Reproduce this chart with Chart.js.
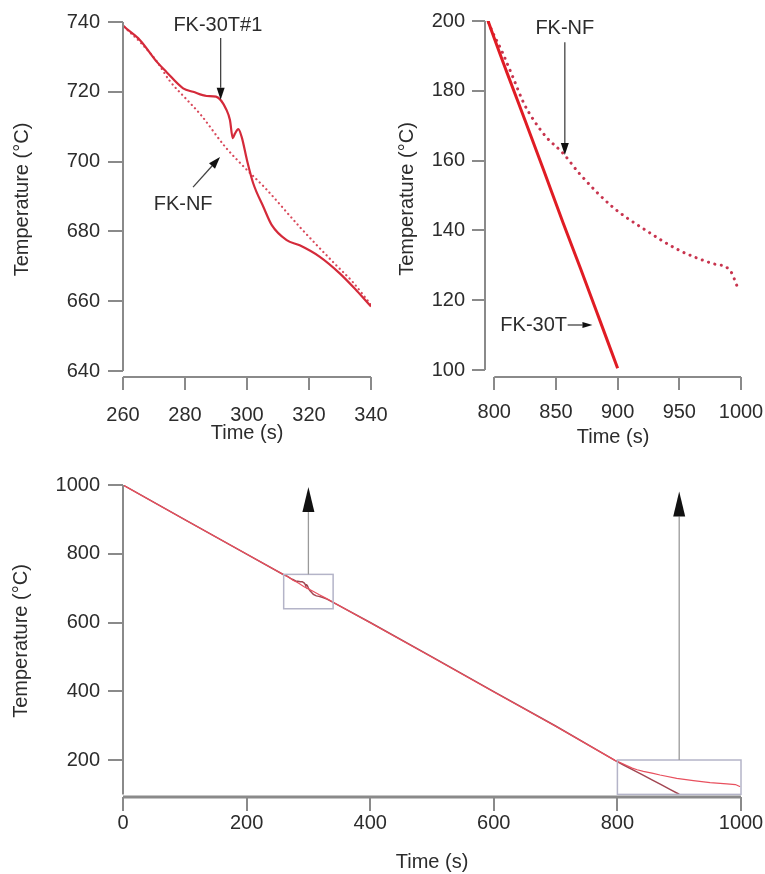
<!DOCTYPE html>
<html lang="en">
<head>
    <meta charset="UTF-8">
    <title>Cooling curves FK-30T / FK-NF</title>
    <script src="https://cdn.jsdelivr.net/npm/chart.js"></script>
    <style>
        body {
            margin: 0;
            background: #fff;
        }
        .wrap {
            position: relative;
            width: 765px;
            height: 874px;
        }
        canvas {
            position: absolute;
            left: 0;
            top: 0;
        }
    </style>
</head>
<body>
    <div class="wrap">
        <canvas id="chartFull" width="765" height="874"></canvas>
        <canvas id="chartZoomA" width="765" height="874"></canvas>
        <canvas id="chartZoomB" width="765" height="874"></canvas>
    </div>

    <script>
        // FK-NF (no filler) – dotted in the insets
        const nfTime = [0, 100, 200, 260, 266, 271, 275, 280, 285, 293, 299, 306, 317, 328, 334, 340,
                        400, 500, 600, 700, 796, 807, 815, 824, 832, 842, 856, 869, 896, 923, 950, 977, 991, 998];
        const nfTemp = [1000, 899, 799, 739, 733.8, 728.6, 723.2, 718.3, 713.5, 704.2, 698.5, 692.3, 681.3, 671, 665.6, 659,
                        599, 499, 398, 298, 199, 190.7, 184, 176.4, 171.6, 166.8, 162, 156.3, 146.7, 140, 134.3, 130.5, 128.6, 123];

        // FK-30T#1 – solid
        const ftTime = [0, 100, 200, 260, 265.5, 271, 274, 279.4, 282.6, 287, 290, 293.4, 294.5, 295.4, 296.1, 297.2, 298.3,
                        300, 302, 305.3, 308, 312.8, 317, 323.5, 330, 335.4, 340,
                        400, 500, 600, 700, 796, 810, 825, 840, 856, 870, 885, 900];
        const ftTemp = [1000, 899, 799, 739, 734.8, 728.5, 725.7, 721, 720, 718.8, 718.6, 714.8, 711.9, 706.7, 708, 709.3, 707,
                        700.4, 693.8, 687, 681.8, 677.5, 676, 672.7, 667.9, 663, 658.5,
                        600, 500, 399, 299, 199, 185.5, 171.5, 157.3, 142, 129, 114.8, 100.5];

        // tick labels
        const ticksA_x = [260, 280, 300, 320, 340];
        const ticksA_y = [640, 660, 680, 700, 720, 740];
        const ticksB_x = [800, 850, 900, 950, 1000];
        const ticksB_y = [100, 120, 140, 160, 180, 200];
        const ticksC_x = [0, 200, 400, 600, 800, 1000];
        const ticksC_y = [200, 400, 600, 800, 1000];

        const FONT = "'Liberation Sans', Arial, sans-serif";
        const TEXT = '#2c2c2c';
        const AXIS = '#8a8a8a';

        const pts = (xs, ys) => xs.map((x, i) => ({ x: x, y: ys[i] }));

        function fixSize(size, horizontal) {
            return function (scale) {
                if (horizontal) scale.height = size; else scale.width = size;
                scale.paddingLeft = 0;
                scale.paddingRight = 0;
                scale.paddingTop = 0;
                scale.paddingBottom = 0;
            };
        }
        function setTicks(values) {
            return function (scale) {
                scale.ticks = values.map(v => ({ value: v }));
            };
        }

        // axis lines, boxes, arrows and labels, all placed through the chart's scales
        const overlay = {
            id: 'overlay',
            afterDraw(chart, args, opts) {
                const { ctx, chartArea } = chart;
                const sx = chart.scales.x, sy = chart.scales.y;
                const px = v => sx.getPixelForValue(v);
                const py = v => sy.getPixelForValue(v);
                ctx.save();
                ctx.strokeStyle = AXIS;
                ctx.lineWidth = opts.axisWidth;
                ctx.beginPath();
                ctx.moveTo(chartArea.left, py(opts.yLine[0]));
                ctx.lineTo(chartArea.left, py(opts.yLine[1]));
                ctx.stroke();
                ctx.lineWidth = opts.xAxisWidth || opts.axisWidth;
                ctx.beginPath();
                ctx.moveTo(px(opts.xLine[0]), chartArea.bottom);
                ctx.lineTo(px(opts.xLine[1]), chartArea.bottom);
                ctx.stroke();

                (opts.boxes || []).forEach(b => {
                    ctx.strokeStyle = '#b4b4c8';
                    ctx.lineWidth = 1.5;
                    ctx.strokeRect(px(b[0]), py(b[3]), px(b[1]) - px(b[0]), py(b[2]) - py(b[3]));
                });

                (opts.arrows || []).forEach(a => {
                    const x1 = px(a.from[0]), y1 = py(a.from[1]);
                    const x2 = px(a.to[0]), y2 = py(a.to[1]);
                    const ang = Math.atan2(y2 - y1, x2 - x1);
                    const len = a.head[0], half = a.head[1] / 2;
                    const bx = x2 - len * Math.cos(ang), by = y2 - len * Math.sin(ang);
                    ctx.strokeStyle = a.color;
                    ctx.lineWidth = a.width;
                    ctx.beginPath();
                    ctx.moveTo(x1, y1);
                    ctx.lineTo(bx, by);
                    ctx.stroke();
                    ctx.fillStyle = '#111';
                    ctx.beginPath();
                    ctx.moveTo(x2, y2);
                    ctx.lineTo(bx + half * Math.sin(ang), by - half * Math.cos(ang));
                    ctx.lineTo(bx - half * Math.sin(ang), by + half * Math.cos(ang));
                    ctx.closePath();
                    ctx.fill();
                });

                (opts.labels || []).forEach(l => {
                    ctx.fillStyle = TEXT;
                    ctx.font = '20px ' + FONT;
                    ctx.textAlign = l.align || 'center';
                    ctx.textBaseline = 'middle';
                    ctx.fillText(l.text, px(l.at[0]), py(l.at[1]));
                });
                ctx.restore();
            }
        };

        function makeChart(id, cfg) {
            return new Chart(document.getElementById(id), {
                type: 'line',
                data: {
                    datasets: [
                        {
                            label: 'FK-30T#1',
                            data: pts(ftTime, ftTemp),
                            borderColor: cfg.ftColor,
                            borderWidth: cfg.ftWidth,
                            cubicInterpolationMode: cfg.smooth ? 'monotone' : 'default',
                            pointRadius: 0,
                            fill: false,
                            order: cfg.ftOrder
                        },
                        {
                            label: 'FK-NF',
                            data: pts(nfTime, nfTemp),
                            borderColor: cfg.nfColor,
                            borderWidth: cfg.nfWidth,
                            borderDash: cfg.nfDash,
                            borderCapStyle: 'round',
                            cubicInterpolationMode: cfg.smooth ? 'monotone' : 'default',
                            pointRadius: 0,
                            fill: false,
                            order: cfg.nfOrder
                        }
                    ]
                },
                options: {
                    responsive: false,
                    animation: false,
                    layout: { padding: cfg.padding },
                    plugins: {
                        legend: { display: false },
                        tooltip: { enabled: false },
                        overlay: cfg.overlay
                    },
                    scales: {
                        x: {
                            type: 'linear',
                            min: cfg.xRange[0],
                            max: cfg.xRange[1],
                            afterBuildTicks: setTicks(cfg.xTicks),
                            afterFit: fixSize(cfg.xHeight, true),
                            border: { display: false },
                            grid: { drawOnChartArea: false, color: AXIS, lineWidth: 2, tickLength: cfg.xTickLen },
                            ticks: { color: TEXT, font: { family: FONT, size: 20 }, padding: cfg.xPad, maxRotation: 0, autoSkip: false,
                                     callback: v => String(v) },
                            title: { display: true, text: 'Time (s)', color: TEXT, font: { family: FONT, size: 20 }, padding: 0 }
                        },
                        y: {
                            min: cfg.yRange[0],
                            max: cfg.yRange[1],
                            afterBuildTicks: setTicks(cfg.yTicks),
                            afterFit: fixSize(cfg.yWidth, false),
                            border: { display: false },
                            grid: { drawOnChartArea: false, color: AXIS, lineWidth: 2, tickLength: cfg.yTickLen },
                            ticks: { color: TEXT, font: { family: FONT, size: 20 }, padding: cfg.yPad, callback: v => String(v) },
                            title: { display: true, text: 'Temperature (°C)', color: TEXT, font: { family: FONT, size: 20 }, padding: { top: cfg.yTitlePad, bottom: 0 } }
                        }
                    }
                },
                plugins: [overlay]
            });
        }

        // top left: 260–340 s
        makeChart('chartZoomA', {
            padding: { left: 0, top: 22, right: 394, bottom: 429 },
            xRange: [260, 340], yRange: [638.28, 740],
            xTicks: ticksA_x, yTicks: ticksA_y,
            xHeight: 68, yWidth: 123, xTickLen: 13, yTickLen: 15, xPad: 13, yPad: 8, yTitlePad: 10,
            smooth: true,
            ftColor: '#d42a3a', ftWidth: 2.2, ftOrder: 1,
            nfColor: '#d94a5c', nfWidth: 2.2, nfDash: [0.1, 4.6], nfOrder: 2,
            overlay: {
                axisWidth: 2,
                xLine: [260, 340], yLine: [740, 640],
                arrows: [
                    { from: [291.5, 735.4], to: [291.5, 717.7], head: [12, 8], color: '#444', width: 1.3 },
                    { from: [282.6, 692.7], to: [291.3, 701.3], head: [12, 8], color: '#444', width: 1.3 }
                ],
                labels: [
                    { text: 'FK-30T#1', at: [290.6, 739.1] },
                    { text: 'FK-NF', at: [279.4, 687.6] }
                ]
            }
        });

        // top right: 800–1000 s
        makeChart('chartZoomB', {
            padding: { left: 385, top: 21, right: 24, bottom: 425 },
            xRange: [792.5, 1000], yRange: [98, 200],
            xTicks: ticksB_x, yTicks: ticksB_y,
            xHeight: 72, yWidth: 100, xTickLen: 13, yTickLen: 13, xPad: 10.5, yPad: 7, yTitlePad: 10,
            smooth: true,
            ftColor: '#e01c24', ftWidth: 3, ftOrder: 1,
            nfColor: '#c8344e', nfWidth: 3, nfDash: [0.1, 6.5], nfOrder: 2,
            overlay: {
                axisWidth: 2,
                xLine: [800, 1000], yLine: [200, 100],
                arrows: [
                    { from: [857.2, 193.9], to: [857.2, 161.6], head: [12, 8], color: '#444', width: 1.3 },
                    { from: [859.5, 112.9], to: [879.6, 112.9], head: [10, 6], color: '#444', width: 1.3 }
                ],
                labels: [
                    { text: 'FK-NF', at: [857.2, 197.9] },
                    { text: 'FK-30T', at: [859, 112.9], align: 'right' }
                ]
            }
        });

        // bottom: full run 0–1000 s
        makeChart('chartFull', {
            padding: { left: 0, top: 485, right: 24, bottom: 0 },
            xRange: [0, 1000], yRange: [92.4, 1000],
            xTicks: ticksC_x, yTicks: ticksC_y,
            xHeight: 77, yWidth: 123, xTickLen: 14, yTickLen: 15, xPad: 0, yPad: 8, yTitlePad: 9,
            smooth: false,
            ftColor: '#a24652', ftWidth: 1.5, ftOrder: 2,
            nfColor: '#e8505e', nfWidth: 1.2, nfDash: [], nfOrder: 1,
            overlay: {
                axisWidth: 2, xAxisWidth: 3,
                xLine: [0, 1000], yLine: [1000, 100],
                boxes: [[260, 340, 640, 740], [800, 1000, 100, 200]],
                arrows: [
                    { from: [300, 740], to: [300, 994], head: [25, 12], color: '#9a9a9a', width: 1.3 },
                    { from: [900, 200], to: [900, 981], head: [25, 12], color: '#9a9a9a', width: 1.3 }
                ]
            }
        });
    </script>
</body>
</html>
